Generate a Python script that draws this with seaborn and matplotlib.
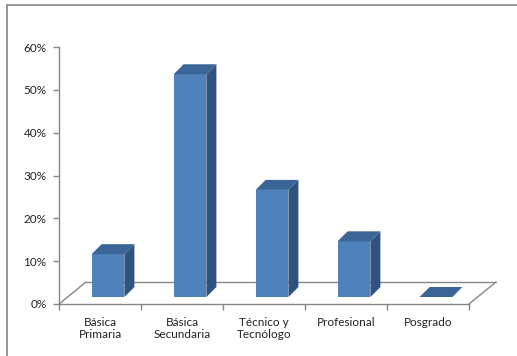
import matplotlib
matplotlib.use("Agg")
import matplotlib.pyplot as plt
import seaborn as sns
import numpy as np
import pandas as pd
from matplotlib.transforms import ScaledTranslation, IdentityTransform
from matplotlib.patches import Polygon
from matplotlib.lines import Line2D
from matplotlib.ticker import FuncFormatter, FixedLocator

categories = ["Básica\nPrimaria", "Básica\nSecundaria", "Técnico y\nTecnólogo", "Profesional", "Posgrado"]
values = [0.10, 0.52, 0.25, 0.13, 0.0]
yticks = [0, 0.1, 0.2, 0.3, 0.4, 0.5, 0.6]

sns.set_theme(style="white")
plt.rcParams['font.family'] = ['Lato', 'DejaVu Sans']

W, H, DPI = 517, 356, 100
fig = plt.figure(figsize=(W / DPI, H / DPI), dpi=DPI)
ax = fig.add_axes([59 / W, 52 / H, 410 / W, 257 / H])

df = pd.DataFrame({"cat": categories, "val": values})
sns.barplot(data=df, x="cat", y="val", width=0.4, color="#4F81BD", saturation=1,
            edgecolor="none", ax=ax, zorder=3)

ax.set_xlim(-0.5, 4.5)
ax.set_ylim(0, 0.6)
ax.set_xlabel("")
ax.set_ylabel("")

gray = "#868686"
for s in ["top", "right"]:
    ax.spines[s].set_visible(False)
for s in ["left", "bottom"]:
    ax.spines[s].set_color(gray)
    ax.spines[s].set_linewidth(1.0)

ax.yaxis.set_major_locator(FixedLocator(yticks))
ax.yaxis.set_major_formatter(FuncFormatter(lambda v, p: f"{v*100:.0f}%"))
ax.tick_params(axis="y", direction="out", length=4, width=1, color=gray,
               labelsize=8.5, pad=5, labelcolor="#222222", left=True)
ax.set_xticks(range(len(categories)))
ax.set_xticklabels(categories, linespacing=1.15)
ax.set_xticks(np.arange(-0.5, 5, 1), minor=True)
ax.tick_params(axis="x", which="major", length=0, labelsize=8.5, pad=9, labelcolor="#222222")
ax.tick_params(axis="x", which="minor", direction="out", length=4, width=1, color=gray, bottom=True)

fig.canvas.draw()

# 3D effect offsets in pixels
front_dx, front_dy = 8, 7
depth_dx, depth_dy = 10, 10
top_col = "#3B6597"
side_col = "#30527E"

shift = ScaledTranslation(front_dx / DPI, front_dy / DPI, fig.dpi_scale_trans)

# floor (in pixels), drawn beneath the bars
x0, y0 = ax.transAxes.transform((0, 0))
x1, _ = ax.transAxes.transform((1, 0))
fdx, fdy = 27, 22
floor_lines = [
    [(x0, y0), (x0 + fdx, y0 + fdy)],
    [(x0 + fdx, y0 + fdy), (x1 + fdx, y0 + fdy)],
    [(x1 + fdx, y0 + fdy), (x1, y0)],
]
for seg in floor_lines:
    (xa, ya), (xb, yb) = seg
    ln = Line2D([xa, xb], [ya, yb], transform=IdentityTransform(),
                color=gray, lw=1.0, zorder=1)
    ln.set_clip_on(False)
    ax.add_line(ln)

for p in ax.patches[:]:
    bx, by = p.get_x(), p.get_y()
    bw, bh = p.get_width(), p.get_height()
    p.set_transform(ax.transData + shift)
    p.set_clip_on(False)
    (px0, py0) = ax.transData.transform((bx, by))
    (px1, py1) = ax.transData.transform((bx + bw, by + bh))
    px0 += front_dx; px1 += front_dx
    py0 += front_dy; py1 += front_dy
    side = Polygon([(px1, py0), (px1 + depth_dx, py0 + depth_dy),
                    (px1 + depth_dx, py1 + depth_dy), (px1, py1)],
                   closed=True, transform=IdentityTransform(), facecolor=side_col,
                   edgecolor="none", zorder=4, clip_on=False)
    top = Polygon([(px0, py1), (px1, py1), (px1 + depth_dx, py1 + depth_dy),
                   (px0 + depth_dx, py1 + depth_dy)],
                  closed=True, transform=IdentityTransform(), facecolor=top_col,
                  edgecolor="none", zorder=4, clip_on=False)
    ax.add_artist(side)
    ax.add_artist(top)

# chart border
fig.add_artist(Line2D([7, 7], [0, H - 5], transform=IdentityTransform(), color=gray, lw=1.2))
fig.add_artist(Line2D([7, W], [H - 5, H - 5], transform=IdentityTransform(), color=gray, lw=1.2))

fig.savefig("out.png", dpi=DPI)
